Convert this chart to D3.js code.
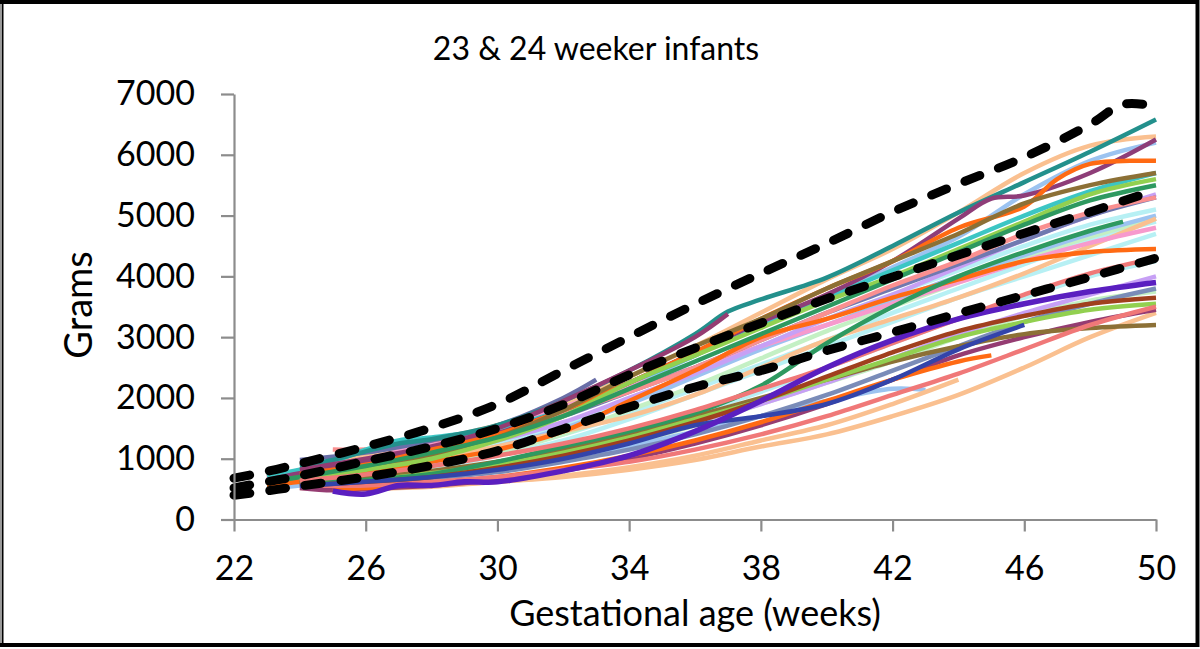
<!DOCTYPE html>
<html>
<head>
<meta charset="utf-8">
<script src="https://cdnjs.cloudflare.com/ajax/libs/d3/7.8.5/d3.min.js"></script>
<style>
  body { margin: 0; background: #fff; }
  svg { display: block; font-family: Lato, "Open Sans", sans-serif; }
</style>
</head>
<body>
<svg class="svg-chart"></svg>
<script>
// tick labels
var xTicks = [22, 26, 30, 34, 38, 42, 46, 50];
var yTicks = [0, 1000, 2000, 3000, 4000, 5000, 6000, 7000];

// reference curves, [week, grams]
var upperRef = [[22,680],[23,790],[24,920],[26,1200],[28,1510],[30,1900],[32,2450],[34,3000],[36,3540],[38,4050],[40,4540],[42,5060],[44,5520],[46,5960],[48,6500],[49,6830],[50,6800]];
var medianRef = [[22,520],[23,620],[24,720],[26,960],[28,1200],[30,1500],[32,1890],[34,2380],[36,2820],[38,3230],[40,3630],[42,3990],[44,4350],[46,4710],[48,5060],[50,5420]];
var lowerRef = [[22,400],[23,470],[24,550],[26,700],[28,890],[30,1130],[32,1490],[34,1850],[36,2180],[38,2450],[40,2780],[42,3080],[44,3390],[46,3690],[48,3990],[50,4300]];

// individual infants, [week, grams]
var infant01 = [[24,880],[25,980],[26,1120],[27,1250],[28,1320],[30,1550],[32,1950],[34,2450],[36,3050],[37,3420],[38,3620],[40,3980],[42,4500],[44,5050],[46,5550],[48,6050],[50,6580]];
var infant02 = [[23,700],[24,800],[26,1050],[28,1300],[30,1550],[32,1900],[34,2350],[36,2850],[38,3400],[40,3950],[42,4450],[44,5050],[46,5700],[48,6150],[50,6300]];
var infant03 = [[24,820],[26,1000],[28,1200],[30,1500],[32,1950],[34,2450],[36,3000],[37,3380]];
var infant04 = [[23,650],[24,760],[26,950],[28,1180],[30,1420],[32,1800],[34,2250],[36,2750],[38,3250],[40,3700],[42,4250],[44,4950],[45,5280],[46,5330],[48,5700],[50,6250]];
var infant05 = [[23,620],[24,720],[26,920],[28,1150],[30,1400],[32,1750],[34,2200],[36,2700],[38,3200],[40,3650],[42,4150],[44,4650],[46,5350],[48,5900],[50,6200]];
var infant06 = [[24,750],[26,900],[28,1150],[30,1400],[32,1800],[34,2250],[36,2750],[38,3300],[40,3800],[42,4250],[44,4800],[46,5150],[47,5600],[48,5850],[50,5900]];
var infant07 = [[23,560],[24,620],[26,760],[28,950],[30,1150],[32,1450],[34,1950],[36,2450],[38,3000],[40,3300],[42,3650],[44,3950],[46,4250],[48,4400],[50,4450]];
var infant08 = [[25,500],[26,520],[28,600],[30,700],[32,850],[34,1050],[36,1300],[38,1600],[40,1950],[42,2300],[44,2600],[45,2700]];
var infant09 = [[24,600],[26,700],[28,800],[30,950],[32,1150],[34,1400],[36,1700],[38,2000],[40,2300],[42,2600],[44,2850],[46,3050],[48,3150],[50,3200]];
var infant10 = [[23,600],[24,700],[26,850],[28,1050],[30,1350],[32,1800],[34,2350],[36,2850],[38,3300],[40,3800],[42,4250],[44,4700],[46,5200],[48,5500],[50,5700]];
var infant11 = [[24,650],[26,820],[28,1000],[30,1300],[32,1700],[34,2250],[36,2700],[38,3150],[40,3600],[42,4000],[44,4450],[46,4900],[48,5350],[50,5600]];
var infant12 = [[24,600],[26,650],[28,750],[30,950],[32,1200],[34,1450],[36,1750],[38,2200],[40,2900],[42,3500],[44,4000],[46,4400],[48,4750],[49,4900]];
var infant13 = [[23,620],[24,700],[26,880],[28,1100],[30,1350],[32,1700],[34,2150],[36,2600],[38,3050],[40,3500],[42,3950],[44,4400],[46,4850],[48,5250],[50,5500]];
var infant14 = [[25,470],[26,420],[27,560],[28,560],[29,620],[30,620],[32,800],[34,1050],[36,1450],[38,1950],[40,2500],[42,2950],[44,3300],[46,3550],[48,3750],[50,3900]];
var infant15 = [[24,550],[26,620],[28,700],[30,820],[32,1000],[34,1250],[36,1550],[38,1700],[40,1900],[42,2300],[44,2800],[46,3200]];
var infant16 = [[24,560],[26,560],[28,620],[30,700],[32,820],[34,950],[36,1150],[38,1400],[40,1700],[42,2050],[44,2400],[46,2800],[48,3200],[50,3500]];
var infant17 = [[24,520],[26,520],[28,560],[30,620],[32,720],[34,860],[36,1050],[38,1300],[40,1550],[42,1900],[44,2300]];
var infant18 = [[24,580],[26,640],[28,720],[30,850],[32,1050],[34,1300],[36,1600],[38,1900],[40,2250],[42,2650],[44,3050],[46,3400],[48,3700],[50,4000]];
var infant19 = [[23,500],[24,560],[26,620],[28,700],[30,820],[32,980],[34,1200],[36,1450],[38,1700],[40,1950],[42,2150],[43,2130]];
var infant20 = [[23,600],[24,680],[26,820],[28,1000],[30,1250],[32,1550],[34,1950],[36,2400],[38,2850],[40,3300],[42,3700],[44,4100],[46,4500],[48,4850],[50,5100]];
var infant21 = [[24,600],[26,700],[28,850],[30,1050],[32,1300],[34,1650],[36,2050],[38,2450],[40,2850],[42,3250],[44,3650],[46,4000],[48,4350],[50,4700]];
var infant22 = [[23,560],[24,640],[26,760],[28,920],[30,1150],[32,1400],[34,1750],[36,2150],[38,2550],[40,2950],[42,3400],[44,3800],[46,4200],[48,4600],[50,4900]];
var infant23 = [[24,620],[26,720],[28,880],[30,1100],[32,1400],[34,1800],[36,2200],[38,2650],[40,3100],[42,3500],[44,3900],[46,4300],[48,4650],[50,4950]];
var infant24 = [[23,700],[24,800],[26,1000],[28,1250],[30,1500],[32,1850],[34,2200],[36,2500],[38,2850],[40,3200],[42,3550],[44,3900],[46,4250],[48,4550],[50,4800]];
var infant25 = [[24,980],[26,1100],[28,1300],[30,1550],[32,2000],[33,2300]];
var infant26 = [[23,650],[24,750],[26,900],[28,1100],[30,1350],[32,1700],[34,2100],[36,2500],[38,2950],[40,3400],[42,3800],[44,4200],[46,4600],[48,5000],[50,5300]];
var infant27 = [[23,720],[24,820],[25,950],[26,1150],[27,1300],[28,1350],[30,1500],[32,1800],[34,2250],[36,2700],[38,3200],[40,3650],[42,4100],[44,4550],[46,5000],[48,5400],[50,5700]];
var infant28 = [[25,1150],[26,1150],[28,1300],[30,1450],[32,1750],[34,2100],[36,2500],[38,2950],[40,3400],[42,3850],[44,4250],[46,4700],[48,5050],[50,5300]];
var infant29 = [[24,560],[26,620],[28,700],[30,850],[32,1050],[34,1300],[36,1600],[38,1950],[40,2350],[42,2750],[44,3100],[46,3350],[48,3550],[50,3650]];
var infant30 = [[24,520],[25,480],[26,500],[28,560],[30,650],[32,800],[34,1000],[36,1250],[38,1550],[40,1900],[42,2300],[44,2700],[46,3000],[48,3250],[50,3450]];
var infant31 = [[23,650],[24,720],[26,850],[28,1000],[30,1200],[32,1450],[34,1700],[36,2050],[38,2500],[40,2950],[42,3300],[44,3650],[46,4050],[48,4500],[50,4950]];
var infant32 = [[24,640],[26,780],[28,950],[30,1200],[32,1500],[34,1900],[36,2350],[38,2800],[40,3200],[42,3600],[44,4000],[46,4350],[48,4700],[50,5000]];
var infant33 = [[23,520],[24,580],[26,650],[28,760],[30,900],[32,1100],[34,1400],[36,1750],[38,2100],[40,2500],[42,2900],[44,3300],[46,3650],[48,4000],[50,4250]];
var infant34 = [[24,560],[26,600],[28,680],[30,800],[32,980],[34,1250],[36,1550],[38,1900],[40,2250],[42,2600],[44,3000],[46,3350],[48,3600],[50,3750]];
var infant35 = [[24,700],[26,850],[28,1050],[30,1300],[32,1600],[34,2000],[36,2400],[38,2850],[40,3300],[42,3700],[44,4150],[46,4600],[48,5000],[50,5350]];
var infant36 = [[24,540],[26,600],[28,680],[30,780],[32,950],[34,1150],[36,1400],[38,1700],[40,2050],[42,2450],[44,2850],[46,3250],[48,3550],[50,3800]];
var infant37 = [[24,560],[26,640],[28,760],[30,900],[32,1100],[34,1350],[36,1650],[38,1950],[40,2300],[42,2650],[44,3000],[46,3250],[48,3450],[50,3550]];
var infant38 = [[25,480],[26,500],[28,540],[30,620],[32,700],[34,820],[36,980],[38,1200],[40,1400],[42,1700],[44,2050],[46,2500],[48,3000],[50,3400]];
var infant39 = [[24,640],[26,740],[28,880],[30,1050],[32,1250],[34,1500],[36,1800],[38,2150],[40,2500],[42,2900],[44,3300],[46,3700],[48,4050],[50,4300]];

var infants = [infant21, infant22, infant33, infant20, infant23, infant34, infant32, infant19, infant05,
  infant31, infant17, infant38, infant02, infant24, infant35, infant18, infant36, infant26, infant28,
  infant27, infant25, infant01, infant03, infant04, infant30, infant06, infant07, infant08, infant09,
  infant10, infant11, infant37, infant12, infant13, infant16, infant39, infant29, infant15, infant14];

var infantColours = ["#B7F0F4", "#B7F0F4", "#B7F0F4", "#B7F0F4", "#C4F0C4", "#C4F0C4", "#9CC3F0", "#9CC3F0", "#9CC3F0",
  "#FAC090", "#FAC090", "#FAC090", "#FAC090", "#F79ACD", "#C7A0F5", "#C7A0F5", "#7A8CB8", "#7079B0", "#FA9090",
  "#3CC6C4", "#6A6FA8", "#23908C", "#953C72", "#8E3D78", "#953C72", "#FF6A13", "#FF6A13", "#FF6A13", "#8C7036",
  "#8C7036", "#92D050", "#92D050", "#2E9960", "#2E9960", "#F07878", "#F07878", "#A0401E", "#3344AA", "#5A1FC0"];

var W = 1200, H = 649;
var margin = {top: 94, right: 44, bottom: 129.5, left: 234},
    width = W - margin.left - margin.right,
    height = H - margin.top - margin.bottom;

var svg = d3.select(".svg-chart")
    .attr("width", W)
    .attr("height", H);

// outer frame
svg.append("rect")
    .attr("x", 1.5).attr("y", 2).attr("width", W - 4).attr("height", H - 6)
    .style("fill", "none").style("stroke", "#000").style("stroke-width", 4);
svg.append("line")
    .attr("x1", 1).attr("x2", 1).attr("y1", 4).attr("y2", H - 6)
    .style("stroke", "#9a9a9a").style("stroke-width", 2);

var x = d3.scaleLinear().domain([22, 50]).range([0, width]);
var y = d3.scaleLinear().domain([0, 7000]).range([height, 0]);

var chart = svg.append("g")
    .attr("transform", "translate(" + margin.left + "," + margin.top + ")");

var line = d3.line()
    .x(function(d) { return x(d[0]); })
    .y(function(d) { return y(d[1]); })
    .curve(d3.curveCatmullRom.alpha(0.5));

chart.selectAll(".infant")
    .data(infants)
    .enter().append("path")
    .attr("class", "infant")
    .attr("d", line)
    .style("fill", "none")
    .style("stroke", function(d, i) { return infantColours[i]; })
    .style("stroke-width", function(d, i) { return infantColours[i] === "#5A1FC0" ? 5.5 : 4.5; })
    .style("stroke-linecap", "butt");

// percentile curves
chart.selectAll(".ref")
    .data([lowerRef, medianRef, upperRef])
    .enter().append("path")
    .attr("class", "ref")
    .attr("d", line)
    .style("fill", "none")
    .style("stroke", "#000")
    .style("stroke-width", 9)
    .style("stroke-linecap", "round")
    .style("stroke-dasharray", "16 20");

// axes
var yAxis = chart.append("g")
    .call(d3.axisLeft(y).tickValues(yTicks).tickFormat(d3.format("d"))
      .tickSize(13).tickPadding(26).tickSizeOuter(0));
var xAxis = chart.append("g")
    .attr("transform", "translate(0," + height + ")")
    .call(d3.axisBottom(x).tickValues(xTicks).tickSize(12).tickPadding(24).tickSizeOuter(0));

[xAxis, yAxis].forEach(function(g) {
  g.selectAll("path, line").style("stroke", "#8c8c8c").style("stroke-width", 2.2);
  g.selectAll("text").style("font-family", "Lato, sans-serif").style("font-size", "34px").style("fill", "#000");
});

// titles
svg.append("text")
    .attr("x", 596).attr("y", 60)
    .attr("text-anchor", "middle")
    .style("font-size", "32px")
    .text("23 & 24 weeker infants");

svg.append("text")
    .attr("x", 695).attr("y", 626)
    .attr("text-anchor", "middle")
    .style("font-size", "36px")
    .text("Gestational age (weeks)");

svg.append("text")
    .attr("transform", "translate(92,305) rotate(-90)")
    .attr("text-anchor", "middle")
    .style("font-size", "38px")
    .text("Grams");
</script>
</body>
</html>
